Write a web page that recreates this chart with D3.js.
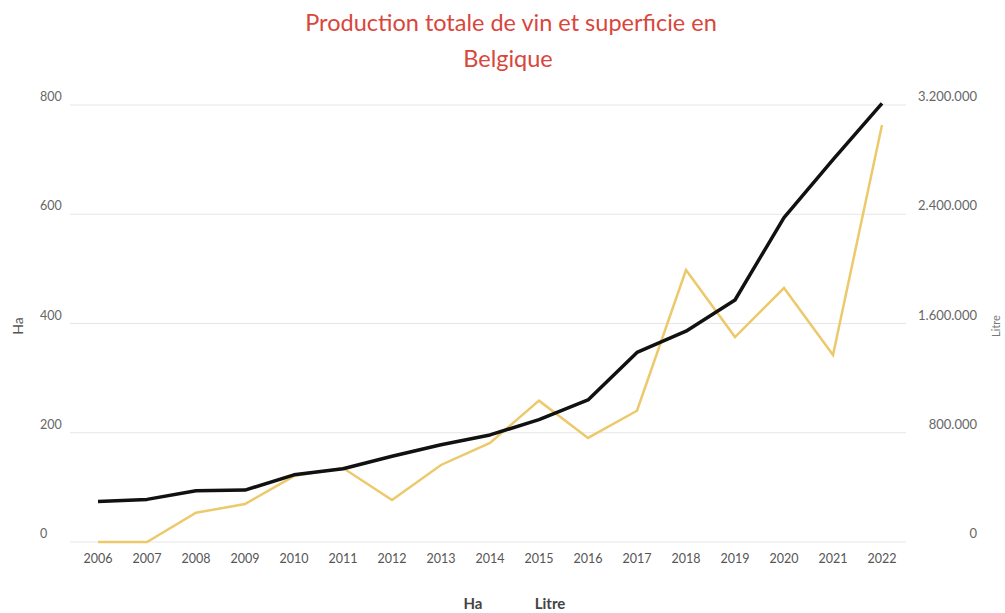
<!DOCTYPE html>
<html>
<head>
<meta charset="utf-8">
<script src="https://cdn.jsdelivr.net/npm/d3@7"></script>
<style>
  body { margin: 0; background: #fff; }
  svg { display: block; font-family: Lato, "Open Sans", sans-serif; }
</style>
</head>
<body>
<div id="chart"></div>
<script>
"use strict"

const width = 1005,
  height = 613,
  margin = { top: 105, bottom: 71, left: 73, right: 99 };

// data
const years = ["2006", "2007", "2008", "2009", "2010", "2011", "2012", "2013", "2014",
  "2015", "2016", "2017", "2018", "2019", "2020", "2021", "2022"];
const hectares = [74, 78, 94, 95, 123, 134, 157, 178, 196, 224, 260, 347, 386, 443, 594, 700, 803];
const litres = [0, 0, 214000, 278000, 483000, 542000, 308000, 564000, 725000,
  1035000, 762000, 961000, 1992000, 1501000, 1860000, 1369000, 3054000];
const haTicks = [0, 200, 400, 600, 800];
const litreTicks = [0, 800000, 1600000, 2400000, 3200000];

const locale = d3.formatLocale({ decimal: ",", thousands: ".", grouping: [3], currency: ["", "€"] });
const fmt = locale.format(",d");

const svg = d3.select("#chart")
  .append("svg")
  .attr("width", width)
  .attr("height", height);

const x = d3.scalePoint()
  .domain(years)
  .range([margin.left + 25, width - margin.right - 24]);

const yHa = d3.scaleLinear()
  .domain([0, 800])
  .range([height - margin.bottom, margin.top]);

const yLitre = d3.scaleLinear()
  .domain([0, 3200000])
  .range([height - margin.bottom, margin.top]);

// grid
svg.append("g")
  .selectAll("line")
  .data(haTicks)
  .join("line")
    .attr("x1", margin.left - 3)
    .attr("x2", width - margin.right)
    .attr("y1", d => yHa(d))
    .attr("y2", d => yHa(d))
    .attr("stroke", "#e6e6e6")
    .attr("stroke-width", 1);

// left axis labels
svg.append("g")
  .selectAll("text")
  .data(haTicks)
  .join("text")
    .attr("x", 40)
    .attr("y", d => yHa(d) - 4)
    .attr("font-size", 12.5)
    .attr("fill", "#666")
    .text(d => d);

// right axis labels
svg.append("g")
  .selectAll("text")
  .data(litreTicks)
  .join("text")
    .attr("x", 977)
    .attr("y", d => yLitre(d) - 4)
    .attr("text-anchor", "end")
    .attr("font-size", 13)
    .attr("fill", "#666")
    .text(d => fmt(d));

// x axis labels
svg.append("g")
  .selectAll("text")
  .data(years)
  .join("text")
    .attr("x", d => x(d))
    .attr("y", 563)
    .attr("text-anchor", "middle")
    .attr("font-size", 12.5)
    .attr("fill", "#555")
    .text(d => d);

// axis titles
svg.append("text")
  .attr("transform", "translate(23,326) rotate(-90)")
  .attr("text-anchor", "middle")
  .attr("font-size", 14)
  .attr("fill", "#555")
  .text("Ha");

svg.append("text")
  .attr("transform", "translate(1000,326) rotate(-90)")
  .attr("text-anchor", "middle")
  .attr("font-size", 11)
  .attr("fill", "#777")
  .text("Litre");

// lines
const haLine = d3.line()
  .x((d, i) => x(years[i]))
  .y(d => yHa(d));

const litreLine = d3.line()
  .x((d, i) => x(years[i]))
  .y(d => yLitre(d));

svg.append("path")
  .datum(litres)
  .attr("fill", "none")
  .attr("stroke", "#ecc96b")
  .attr("stroke-width", 2.5)
  .attr("stroke-linejoin", "miter")
  .attr("d", litreLine);

svg.append("path")
  .datum(hectares)
  .attr("fill", "none")
  .attr("stroke", "#111")
  .attr("stroke-width", 3.5)
  .attr("stroke-linejoin", "round")
  .attr("d", haLine);

// title
const title = svg.append("text")
  .attr("text-anchor", "middle")
  .attr("font-size", 23.5)
  .attr("fill", "#d9463b");
title.append("tspan").attr("x", 511).attr("y", 31).text("Production totale de vin et superficie en");
title.append("tspan").attr("x", 508).attr("y", 67).text("Belgique");

// legend
svg.append("g")
  .selectAll("text")
  .data([["Ha", 473], ["Litre", 550]])
  .join("text")
    .attr("x", d => d[1])
    .attr("y", 609)
    .attr("text-anchor", "middle")
    .attr("font-size", 15)
    .attr("font-weight", "bold")
    .attr("fill", "#444")
    .text(d => d[0]);
</script>
</body>
</html>
